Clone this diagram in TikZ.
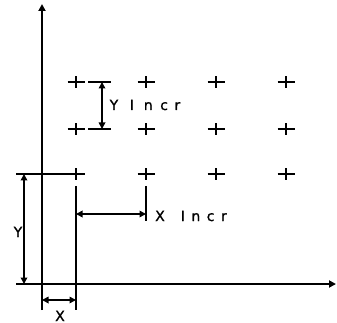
\documentclass[tikz,border=0pt]{standalone}
\usepackage{fontspec}
\setmainfont{DejaVu Sans}
\newfontfamily\plotfont{DejaVu Sans}[FakeBold=1.2]
\usetikzlibrary{arrows.meta}
\begin{document}
\begin{tikzpicture}[x=1pt,y=-1pt,
  ln/.style={line width=1.6pt},
  dim/.style={line width=1.6pt,{Triangle[length=6.5pt,width=6.5pt]}-{Triangle[length=6.5pt,width=6.5pt]}},
  axis/.style={line width=1.8pt,-{Triangle[length=7pt,width=7pt]}},
  pl/.style={line width=1.6pt},
  lbl/.style={font=\plotfont\fontsize{14}{14}\selectfont,inner sep=0pt}]
\useasboundingbox (0,0) rectangle (337,323);
% axes
\coordinate (ybot) at (42,310);
\coordinate (ytop) at (42,4);
\coordinate (xl) at (16,284);
\coordinate (xr) at (336,284);
\draw[axis] (ybot) -- (ytop);
\draw[axis] (xl) -- (xr);
% grid of plus marks
\foreach \c/\x in {1/76,2/146,3/216,4/286}{
  \foreach \r/\y in {1/82,2/129,3/174}{
    \coordinate (p\r\c) at (\x,\y);
    \draw[pl] ([xshift=-8.5pt]p\r\c) -- ([xshift=8.5pt]p\r\c);
    \draw[pl] ([yshift=-6pt]p\r\c) -- ([yshift=6pt]p\r\c);
  }
}
% reference lines
\coordinate (hl) at (16,174);
\draw[ln] (hl) -- (p31);
\coordinate (v1t) at (76,186);
\coordinate (v1b) at (76,310);
\draw[ln] (v1t) -- (v1b);
\coordinate (v2t) at (146,186);
\coordinate (v2b) at (146,221);
\draw[ln] (v2t) -- (v2b);
% Y incr extension lines
\coordinate (ya1) at (88,82);
\coordinate (ya2) at (111,82);
\coordinate (yb1) at (88,129);
\coordinate (yb2) at (111,129);
\draw[ln] (ya1) -- (ya2);
\draw[ln] (yb1) -- (yb2);
% dimensions
\coordinate (yi1) at (102,82);
\coordinate (yi2) at (102,129);
\draw[dim] (yi1) -- (yi2);
\coordinate (xi1) at (76,214);
\coordinate (xi2) at (146,214);
\draw[dim] (xi1) -- (xi2);
\coordinate (yd1) at (24,174);
\coordinate (yd2) at (24,284);
\draw[dim] (yd1) -- (yd2);
\coordinate (xd1) at (42,300);
\coordinate (xd2) at (76,300);
\draw[dim] (xd1) -- (xd2);
% labels
\node[lbl,anchor=base west] (tyi) at (109.5,110) {Y\kern11.5pt I\kern10pt n\kern7.5pt c\kern6.5pt r};
\node[lbl,anchor=base west] (txi) at (155,221) {X\kern16pt I\kern6.5pt n\kern6.5pt c\kern6.5pt r};
\node[lbl,anchor=base] (ty) at (18,237) {Y};
\node[lbl,anchor=base] (tx) at (60,321) {X};
\end{tikzpicture}
\end{document}
